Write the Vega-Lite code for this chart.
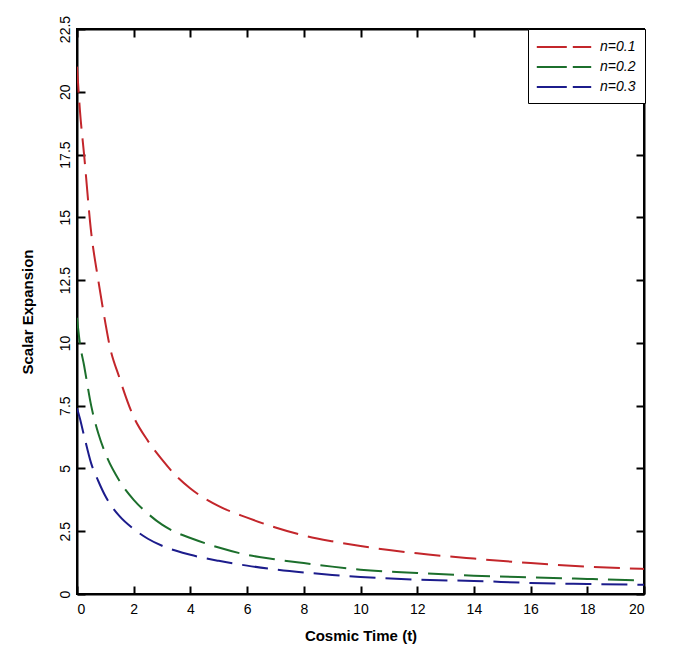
{
  "$schema": "https://vega.github.io/schema/vega-lite/v6.json",
  "width": 567,
  "height": 565,
  "autosize": {"type": "none"},
  "padding": {"left": 77, "top": 29, "right": 29, "bottom": 52},
  "background": "white",
  "config": {
    "view": {"stroke": "black", "strokeWidth": 2},
    "font": "Liberation Sans",
    "axis": {
      "grid": false,
      "domainColor": "black",
      "domainWidth": 2,
      "tickColor": "black",
      "tickWidth": 2,
      "tickSize": -8,
      "labelFont": "Liberation Sans",
      "labelFontSize": 14,
      "labelColor": "black",
      "titleFont": "Liberation Sans",
      "titleFontSize": 15,
      "titleFontWeight": "bold",
      "titleColor": "black"
    }
  },
  "data": {
    "values": [
      {"t": 0, "a": 21.0, "n": "n=0.1"},
      {"t": 0.1, "a": 19.3, "n": "n=0.1"},
      {"t": 0.25, "a": 17.5, "n": "n=0.1"},
      {"t": 0.5, "a": 14.4, "n": "n=0.1"},
      {"t": 0.75, "a": 12.5, "n": "n=0.1"},
      {"t": 1, "a": 10.8, "n": "n=0.1"},
      {"t": 1.13, "a": 10.0, "n": "n=0.1"},
      {"t": 1.5, "a": 8.6, "n": "n=0.1"},
      {"t": 2, "a": 7.05, "n": "n=0.1"},
      {"t": 2.5, "a": 6.1, "n": "n=0.1"},
      {"t": 3, "a": 5.35, "n": "n=0.1"},
      {"t": 3.5, "a": 4.7, "n": "n=0.1"},
      {"t": 4, "a": 4.2, "n": "n=0.1"},
      {"t": 5, "a": 3.5, "n": "n=0.1"},
      {"t": 6, "a": 3.04, "n": "n=0.1"},
      {"t": 7, "a": 2.65, "n": "n=0.1"},
      {"t": 8, "a": 2.33, "n": "n=0.1"},
      {"t": 9, "a": 2.1, "n": "n=0.1"},
      {"t": 10, "a": 1.91, "n": "n=0.1"},
      {"t": 12, "a": 1.62, "n": "n=0.1"},
      {"t": 14, "a": 1.41, "n": "n=0.1"},
      {"t": 16, "a": 1.23, "n": "n=0.1"},
      {"t": 18, "a": 1.09, "n": "n=0.1"},
      {"t": 20, "a": 1.0, "n": "n=0.1"},
      {"t": 0, "a": 11.0, "n": "n=0.2"},
      {"t": 0.1, "a": 10.0, "n": "n=0.2"},
      {"t": 0.25, "a": 9.1, "n": "n=0.2"},
      {"t": 0.5, "a": 7.5, "n": "n=0.2"},
      {"t": 0.75, "a": 6.4, "n": "n=0.2"},
      {"t": 1, "a": 5.6, "n": "n=0.2"},
      {"t": 1.5, "a": 4.5, "n": "n=0.2"},
      {"t": 2, "a": 3.75, "n": "n=0.2"},
      {"t": 2.5, "a": 3.2, "n": "n=0.2"},
      {"t": 3, "a": 2.76, "n": "n=0.2"},
      {"t": 3.5, "a": 2.45, "n": "n=0.2"},
      {"t": 4, "a": 2.23, "n": "n=0.2"},
      {"t": 5, "a": 1.85, "n": "n=0.2"},
      {"t": 6, "a": 1.56, "n": "n=0.2"},
      {"t": 7, "a": 1.38, "n": "n=0.2"},
      {"t": 8, "a": 1.23, "n": "n=0.2"},
      {"t": 9, "a": 1.09, "n": "n=0.2"},
      {"t": 10, "a": 0.97, "n": "n=0.2"},
      {"t": 12, "a": 0.84, "n": "n=0.2"},
      {"t": 14, "a": 0.73, "n": "n=0.2"},
      {"t": 16, "a": 0.66, "n": "n=0.2"},
      {"t": 18, "a": 0.6, "n": "n=0.2"},
      {"t": 20, "a": 0.54, "n": "n=0.2"},
      {"t": 0, "a": 7.4, "n": "n=0.3"},
      {"t": 0.1, "a": 7.0, "n": "n=0.3"},
      {"t": 0.25, "a": 6.3, "n": "n=0.3"},
      {"t": 0.5, "a": 5.2, "n": "n=0.3"},
      {"t": 0.75, "a": 4.5, "n": "n=0.3"},
      {"t": 1, "a": 3.9, "n": "n=0.3"},
      {"t": 1.5, "a": 3.1, "n": "n=0.3"},
      {"t": 2, "a": 2.59, "n": "n=0.3"},
      {"t": 2.5, "a": 2.2, "n": "n=0.3"},
      {"t": 3, "a": 1.92, "n": "n=0.3"},
      {"t": 3.5, "a": 1.72, "n": "n=0.3"},
      {"t": 4, "a": 1.56, "n": "n=0.3"},
      {"t": 5, "a": 1.32, "n": "n=0.3"},
      {"t": 6, "a": 1.13, "n": "n=0.3"},
      {"t": 7, "a": 0.98, "n": "n=0.3"},
      {"t": 8, "a": 0.86, "n": "n=0.3"},
      {"t": 9, "a": 0.76, "n": "n=0.3"},
      {"t": 10, "a": 0.68, "n": "n=0.3"},
      {"t": 12, "a": 0.57, "n": "n=0.3"},
      {"t": 14, "a": 0.52, "n": "n=0.3"},
      {"t": 16, "a": 0.44, "n": "n=0.3"},
      {"t": 18, "a": 0.4, "n": "n=0.3"},
      {"t": 20, "a": 0.37, "n": "n=0.3"}
    ]
  },
  "layer": [
    {
      "mark": {"type": "line", "strokeWidth": 2, "strokeDash": [26, 10], "interpolate": "monotone", "clip": true},
      "encoding": {
        "x": {
          "field": "t", "type": "quantitative",
          "scale": {"domain": [0, 20], "nice": false, "zero": false},
          "axis": {"orient": "bottom", "values": [0, 2, 4, 6, 8, 10, 12, 14, 16, 18, 20], "format": ".3~g", "title": "Cosmic Time (t)", "labelPadding": 16, "titlePadding": 12}
        },
        "y": {
          "field": "a", "type": "quantitative",
          "scale": {"domain": [0, 22.5], "nice": false, "zero": false},
          "axis": {"orient": "left", "values": [0, 2.5, 5, 7.5, 10, 12.5, 15, 17.5, 20, 22.5], "format": ".3~g", "labelAngle": -90, "labelAlign": "center", "labelBaseline": "alphabetic", "labelPadding": 16, "title": "Scalar Expansion", "titlePadding": 23}
        },
        "color": {
          "field": "n", "type": "nominal",
          "scale": {"domain": ["n=0.1", "n=0.2", "n=0.3"], "range": ["#c3262b", "#1c6f2c", "#1c1c8c"]},
          "legend": {
            "title": null,
            "orient": "none",
            "legendX": 451,
            "legendY": 0,
            "strokeColor": "black",
            "fillColor": "white",
            "padding": 9,
            "symbolType": "M-3.4,0H3.4",
            "symbolSize": 256,
            "symbolStrokeWidth": 2,
            "symbolDash": [30, 6],
            "symbolFillColor": "transparent",
            "symbolOffset": 18,
            "labelOffset": 27,
            "labelFont": "Liberation Sans",
            "labelFontSize": 14,
            "labelFontStyle": "italic",
            "labelColor": "black",
            "rowPadding": 4
          }
        }
      }
    },
    {
      "mark": {"type": "line", "opacity": 0},
      "encoding": {
        "x": {"field": "t", "type": "quantitative", "axis": {"orient": "top", "values": [0, 2, 4, 6, 8, 10, 12, 14, 16, 18, 20], "labels": false, "title": null}},
        "y": {"field": "a", "type": "quantitative", "axis": {"orient": "right", "values": [0, 2.5, 5, 7.5, 10, 12.5, 15, 17.5, 20, 22.5], "labels": false, "title": null}}
      }
    }
  ],
  "resolve": {"axis": {"x": "independent", "y": "independent"}}
}
